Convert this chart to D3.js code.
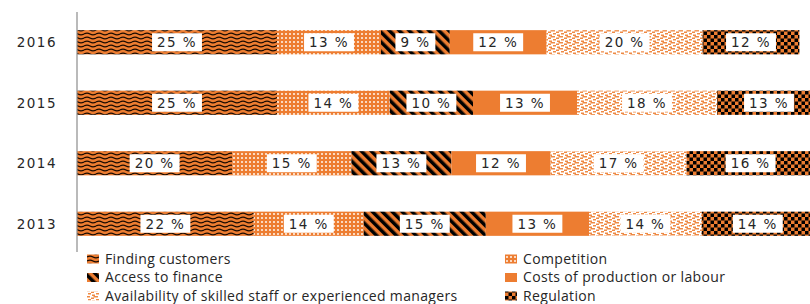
<!DOCTYPE html>
<html>
<head>
<meta charset="utf-8">
<script src="https://cdn.jsdelivr.net/npm/d3@7"></script>
<style>
  body { margin: 0; background: #fff; overflow: hidden; }
  svg { display: block; }
</style>
</head>
<body>
<div id="container"></div>
<script>
/* CONSTANTS AND DATA */
const width = 810;
const height = 304;

const years = ["2016", "2015", "2014", "2013"];
const categories = [
  "Finding customers",
  "Competition",
  "Access to finance",
  "Costs of production or labour",
  "Availability of skilled staff or experienced managers",
  "Regulation"
];
// bar lengths (% of firms)
const shares = {
  "2016": [25, 13, 8.6, 12.1, 19.5, 12.1],
  "2015": [25, 14.1, 10.4, 13, 17.5, 13],
  "2014": [19.4, 14.9, 12.5, 12.4, 17, 16],
  "2013": [22.1, 13.75, 15.25, 12.9, 14.1, 14]
};
// printed labels
const labels = {
  "2016": [25, 13, 9, 12, 20, 12],
  "2015": [25, 14, 10, 13, 18, 13],
  "2014": [20, 15, 13, 12, 17, 16],
  "2013": [22, 14, 15, 13, 14, 14]
};

const orange = "#ED7D31";

const svg = d3.select("#container")
  .append("svg")
  .attr("width", width)
  .attr("height", height);

/* PATTERNS */
const defs = svg.append("defs");

// wavy lines
let p = defs.append("pattern").attr("id", "p0").attr("patternUnits", "userSpaceOnUse")
  .attr("width", 12).attr("height", 4);
p.append("rect").attr("width", 12).attr("height", 4).attr("fill", orange);
p.append("path").attr("d", "M0,2 Q3,0.3 6,2 T12,2").attr("fill", "none")
  .attr("stroke", "#1a0a00").attr("stroke-width", 1.4);

// small grid
p = defs.append("pattern").attr("id", "p1").attr("patternUnits", "userSpaceOnUse")
  .attr("width", 4).attr("height", 4);
p.append("rect").attr("width", 4).attr("height", 4).attr("fill", orange);
p.append("rect").attr("x", 1).attr("y", 1).attr("width", 2).attr("height", 2).attr("fill", "#fbd9c0");

// wide downward diagonal
p = defs.append("pattern").attr("id", "p2").attr("patternUnits", "userSpaceOnUse")
  .attr("width", 7).attr("height", 7).attr("patternTransform", "rotate(-45)");
p.append("rect").attr("width", 7).attr("height", 7).attr("fill", orange);
p.append("rect").attr("width", 3.5).attr("height", 7).attr("fill", "#000");

// confetti
p = defs.append("pattern").attr("id", "p4").attr("patternUnits", "userSpaceOnUse")
  .attr("width", 8).attr("height", 6);
p.append("rect").attr("width", 8).attr("height", 6).attr("fill", "#fff");
[[0, 0], [4, 1.5], [1, 3], [5, 4.5], [6.5, 0]].forEach(d => {
  p.append("rect").attr("x", d[0]).attr("y", d[1]).attr("width", 3).attr("height", 1.5)
    .attr("fill", orange).attr("opacity", 0.9);
});

// large checkerboard
p = defs.append("pattern").attr("id", "p5").attr("patternUnits", "userSpaceOnUse")
  .attr("width", 7).attr("height", 7);
p.append("rect").attr("width", 7).attr("height", 7).attr("fill", orange);
p.append("rect").attr("width", 3.5).attr("height", 3.5).attr("fill", "#000");
p.append("rect").attr("x", 3.5).attr("y", 3.5).attr("width", 3.5).attr("height", 3.5).attr("fill", "#000");

const fills = ["url(#p0)", "url(#p1)", "url(#p2)", orange, "url(#p4)", "url(#p5)"];

/* SCALES */
const xScale = d3.scaleLinear()
  .domain([0, 100])
  .range([77, 877]);

const yScale = d3.scaleBand()
  .domain(years)
  .range([12, 254])
  .paddingInner(0.6)
  .paddingOuter(0.3);

/* BARS */
const stacked = years.map(y => {
  let acc = 0;
  return shares[y].map((v, i) => {
    const seg = { year: y, i, x0: acc, x1: acc + v, label: labels[y][i] };
    acc += v;
    return seg;
  });
}).flat();

svg.selectAll(".bar")
  .data(stacked)
  .join("rect")
  .attr("class", "bar")
  .attr("x", d => xScale(d.x0))
  .attr("y", d => yScale(d.year))
  .attr("width", d => xScale(d.x1) - xScale(d.x0))
  .attr("height", yScale.bandwidth())
  .attr("fill", d => fills[d.i]);

// value labels in white boxes
const lab = svg.selectAll(".lab")
  .data(stacked)
  .join("g")
  .attr("class", "lab")
  .attr("transform", d => `translate(${(xScale(d.x0) + xScale(d.x1)) / 2},${yScale(d.year) + yScale.bandwidth() / 2})`);

lab.append("rect").attr("fill", "#fff");
lab.append("text")
  .attr("text-anchor", "middle")
  .attr("dy", "0.36em")
  .style("font-family", "DejaVu Sans, sans-serif")
  .style("font-size", "13.5px")
  .style("letter-spacing", "1.4px")
  .attr("fill", "#262626")
  .text(d => d.label + " %");

lab.each(function () {
  const t = d3.select(this).select("text");
  const w = t.node().getComputedTextLength();
  d3.select(this).select("rect")
    .attr("x", -w / 2 - 5)
    .attr("y", -9)
    .attr("width", w + 10)
    .attr("height", 18);
});

/* AXIS */
svg.append("line")
  .attr("x1", xScale(0)).attr("x2", xScale(0))
  .attr("y1", 12).attr("y2", 252)
  .attr("stroke", "#8c8c8c")
  .attr("stroke-width", 1.2);

svg.selectAll(".year")
  .data(years)
  .join("text")
  .attr("class", "year")
  .attr("x", 57)
  .attr("y", d => yScale(d) + yScale.bandwidth() / 2)
  .attr("dy", "0.36em")
  .attr("text-anchor", "end")
  .style("font-family", "DejaVu Sans, sans-serif")
  .style("font-size", "13.5px")
  .style("letter-spacing", "1.5px")
  .attr("fill", "#262626")
  .text(d => d);

/* LEGEND */
const legendOrder = [0, 1, 2, 3, 4, 5];
const leg = svg.selectAll(".leg")
  .data(legendOrder)
  .join("g")
  .attr("class", "leg")
  .attr("transform", i => `translate(${i % 2 === 0 ? 87 : 505},${259 + Math.floor(i / 2) * 18.5})`);

leg.append("rect")
  .attr("x", 0).attr("y", -4.5)
  .attr("width", 12).attr("height", 9)
  .attr("fill", i => fills[i]);

leg.append("text")
  .attr("x", 18)
  .attr("dy", "0.33em")
  .style("font-family", "Open Sans, sans-serif")
  .style("font-size", "14px")
  .style("letter-spacing", "0.35px")
  .attr("fill", "#262626")
  .text(i => categories[i]);
</script>
</body>
</html>
